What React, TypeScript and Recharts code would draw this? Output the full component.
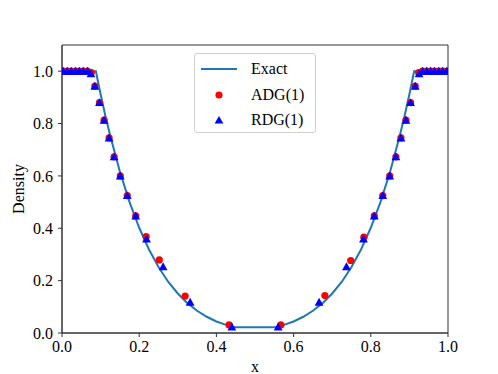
import React from 'react';
import { ComposedChart, Line, Scatter, XAxis, YAxis, ReferenceArea } from 'recharts';

// exact solution (123 problem, density)
const exactX = [0, 0.0878, 0.1, 0.1125, 0.125, 0.15, 0.175, 0.2, 0.225, 0.25, 0.275, 0.3, 0.325, 0.35, 0.375, 0.4, 0.425, 0.4478,
  0.5522, 0.575, 0.6, 0.625, 0.65, 0.675, 0.7, 0.725, 0.75, 0.775, 0.8, 0.825, 0.85, 0.875, 0.8875, 0.9, 0.9122, 1];
const exactRho = [1, 1, 0.912, 0.829, 0.753, 0.616, 0.5, 0.402, 0.32, 0.252, 0.196, 0.151, 0.114, 0.085, 0.062, 0.044, 0.031, 0.0218,
  0.0218, 0.031, 0.044, 0.062, 0.085, 0.114, 0.151, 0.196, 0.252, 0.32, 0.402, 0.5, 0.616, 0.753, 0.829, 0.912, 1, 1];

const adgX = [0.003, 0.014, 0.024, 0.035, 0.045, 0.055, 0.066, 0.076, 0.085, 0.097, 0.109, 0.122, 0.135, 0.151, 0.169, 0.191, 0.218, 0.252, 0.319, 0.433,
  0.567, 0.681, 0.748, 0.782, 0.809, 0.831, 0.849, 0.865, 0.878, 0.891, 0.903, 0.915, 0.924, 0.934, 0.945, 0.955, 0.965, 0.976, 0.986, 0.997];
const adgRho = [1, 1, 1, 1, 1, 1, 1, 0.995, 0.943, 0.88, 0.813, 0.745, 0.673, 0.6, 0.525, 0.447, 0.368, 0.279, 0.141, 0.031,
  0.031, 0.143, 0.277, 0.366, 0.447, 0.525, 0.6, 0.673, 0.745, 0.813, 0.88, 0.943, 0.995, 1, 1, 1, 1, 1, 1, 1];

const rdgX = [0.003, 0.014, 0.024, 0.035, 0.045, 0.055, 0.066, 0.075, 0.085, 0.097, 0.109, 0.122, 0.135, 0.151, 0.169, 0.191, 0.219, 0.262, 0.332, 0.44,
  0.56, 0.666, 0.737, 0.781, 0.809, 0.831, 0.849, 0.865, 0.878, 0.891, 0.903, 0.915, 0.925, 0.934, 0.945, 0.955, 0.965, 0.976, 0.986, 0.997];
const rdgRho = [1, 1, 1, 1, 1, 1, 1, 0.99, 0.943, 0.88, 0.813, 0.745, 0.673, 0.6, 0.525, 0.447, 0.359, 0.253, 0.118, 0.023,
  0.023, 0.118, 0.253, 0.359, 0.447, 0.525, 0.6, 0.673, 0.745, 0.813, 0.88, 0.943, 0.99, 1, 1, 1, 1, 1, 1, 1];

const xTicks = [0, 0.2, 0.4, 0.6, 0.8, 1.0];
const yTicks = [0, 0.2, 0.4, 0.6, 0.8, 1.0];

const exactData = exactX.map((x, i) => ({ x, y: exactRho[i] }));
const adgData = adgX.map((x, i) => ({ x, y: adgRho[i] }));
const rdgData = rdgX.map((x, i) => ({ x, y: rdgRho[i] }));

const FONT = '"Liberation Serif", "DejaVu Serif", serif';

const Circle = (props: any) => <circle cx={props.cx} cy={props.cy} r={3.6} fill="#ff0000" />;
const Triangle = (props: any) => {
  const { cx, cy } = props;
  const s = 4.4;
  return <polygon points={`${cx},${cy - s} ${cx - s},${cy + s * 0.8} ${cx + s},${cy + s * 0.8}`} fill="#0000ff" />;
};

const LegendBox = () => (
  <div style={{
    position: 'absolute', left: 194, top: 53,
    width: 122, height: 80, boxSizing: 'border-box', border: '1px solid #d0d0d0', borderRadius: 3,
    background: 'rgba(255,255,255,0.8)', fontFamily: FONT, fontSize: 16, color: '#000',
  }}>
    <svg width={40} height={78} style={{ position: 'absolute', left: 5, top: 0 }}>
      <line x1={1} x2={37} y1={15} y2={15} stroke="#1f77b4" strokeWidth={2} />
      <circle cx={19} cy={41} r={3.6} fill="#ff0000" />
      <polygon points="19,62 14.6,69.5 23.4,69.5" fill="#0000ff" />
    </svg>
    <div style={{ position: 'absolute', left: 56, top: 5, lineHeight: '20px' }}>Exact</div>
    <div style={{ position: 'absolute', left: 56, top: 31, lineHeight: '20px' }}>ADG(1)</div>
    <div style={{ position: 'absolute', left: 56, top: 56, lineHeight: '20px' }}>RDG(1)</div>
  </div>
);

export default function App() {
  return (
    <div style={{ position: 'fixed', left: 0, top: 0, width: 498, height: 374, background: '#fff' }}>
      <ComposedChart width={498} height={374} margin={{ top: 45, right: 50, bottom: 0, left: 0 }} style={{ fontFamily: FONT }}>
        <XAxis
          type="number" dataKey="x" domain={[0, 1]} ticks={xTicks} allowDataOverflow
          tickFormatter={(v: number) => v.toFixed(1)} height={41}
          tick={{ fill: '#000', fontSize: 16 }} tickSize={4} tickMargin={4}
          stroke="#333"
          label={{ value: 'x', position: 'insideBottom', offset: 2, fill: '#000', fontSize: 16 }}
        />
        <YAxis
          type="number" dataKey="y" domain={[0, 1.1]} ticks={yTicks} allowDataOverflow
          tickFormatter={(v: number) => v.toFixed(1)} width={62}
          tick={{ fill: '#000', fontSize: 16 }} tickSize={4} tickMargin={5}
          stroke="#333"
          label={{ value: 'Density', angle: -90, position: 'insideLeft', offset: 18, fill: '#000', fontSize: 16, style: { textAnchor: 'middle' } }}
        />
        <ReferenceArea x1={0} x2={1} y1={0} y2={1.1} fill="none" stroke="#333" strokeWidth={1} />
        <Line data={exactData} dataKey="y" type="linear" stroke="#1f77b4" strokeWidth={2} dot={false} isAnimationActive={false} />
        <Scatter data={adgData} dataKey="y" shape={Circle} isAnimationActive={false} />
        <Scatter data={rdgData} dataKey="y" shape={Triangle} isAnimationActive={false} />
      </ComposedChart>
      <LegendBox />
    </div>
  );
}
